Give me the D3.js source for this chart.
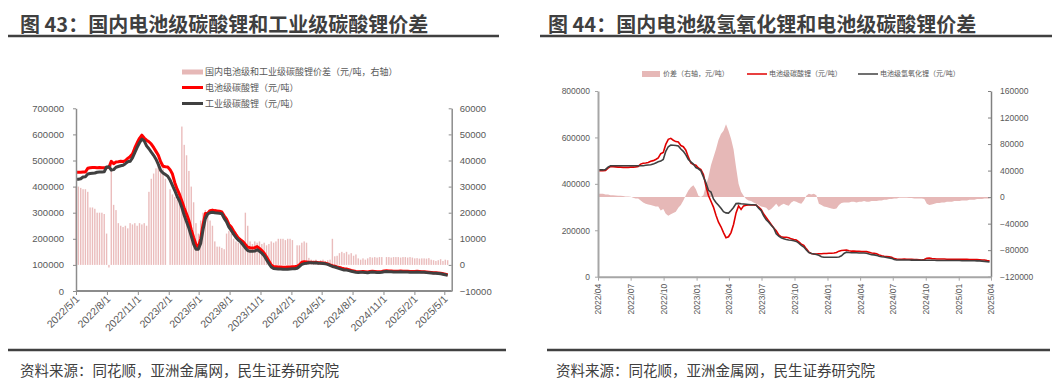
<!DOCTYPE html>
<html>
<head>
<meta charset="utf-8">
<script src="https://cdn.jsdelivr.net/npm/d3@7"></script>
<style>
  body { margin: 0; background: #fff; }
  svg { display: block; font-family: "Noto Sans CJK SC", "Noto Sans", sans-serif; }
</style>
</head>
<body>
<svg id="chart" width="1058" height="384"></svg>
<script>
// ---- figure 43: weekly, from 2022/5/1 ----
const leftStart = "2022-05-01";
const leftTicks = ["2022/5/1", "2022/8/1", "2022/11/1", "2023/2/1", "2023/5/1", "2023/8/1",
  "2023/11/1", "2024/2/1", "2024/5/1", "2024/8/1", "2024/11/1", "2025/2/1", "2025/5/1"];
const leftYTicks = [0, 100000, 200000, 300000, 400000, 500000, 600000, 700000];
const leftRTicks = [-10000, 0, 10000, 20000, 30000, 40000, 50000, 60000];
const leftLegend = ["国内电池级和工业级碳酸锂价差（元/吨，右轴）", "电池级碳酸锂（元/吨）", "工业级碳酸锂（元/吨）"];

const leftSpread = [
  30000, 30000, 29500, 29000, 29000, 28000, 22000, 22000, 21500, 20000,
  20000, 20000, 19500, 12000, -1000, 40000, 23000, 21000, 16000, 15000,
  14500, 15000, 14000, 16000, 15500, 16000, 15000, 16000, 15500, 16000,
  15000, 28000, 33000, 35000, 37000, 38000, 36000, 37000, 33000, 0,
  29000, 27000, 26000, 25000, 26000, 53000, 46000, 42000, 36000, 30000,
  24000, 16000, 12000, 17000, 20000, 21000, 19000, 17000, 15000, 9000,
  7000, 7000, 6500, 6000, 12000, 13000, 12000, 10000, 9000, 8500,
  9000, 8000, 20000, 15000, 9000, 8000, 9000, 8500, 9000, 8000,
  8500, 7500, 8000, 9000, 8500, 9000, 10000, 10000, 10000, 9500,
  10000, 10000, 9500, 0, 7500, 7500, 8500, 9000, 8500, 2700,
  2000, 1800, 2000, 1500, 1800, 2000, 1500, 1800, 2000, 10000,
  3300, 3500, 4500, 5000, 4500, 5000, 4000, 4500, 3500, 4000,
  2500, 2000, 2500, 2000, 2500, 3000, 2800, 3000, 2800, 3000,
  3000, 0, 3000, 3000, 2800, 3000, 3000, 3000, 2800, 3000,
  3000, 2800, 3000, 2800, 2500, 2600, 2400, 2500, 2500, 2400,
  2600, 2000, 1800, 1500, 1800, 2200, 1500, 2000, 1800
];
const leftBattery = [
  455000, 455000, 455000, 456000, 456000, 470000, 472000, 473000, 473000, 472000,
  473000, 472000, 472000, 473000, 474000, 497000, 488000, 494000, 495000, 497000,
  496000, 500000, 508000, 515000, 525000, 548000, 568000, 585000, 597000, 586000,
  578000, 572000, 563000, 550000, 535000, 520000, 495000, 478000, 476000, 475000,
  465000, 448000, 415000, 390000, 370000, 345000, 318000, 295000, 270000, 235000,
  205000, 178000, 168000, 200000, 255000, 297000, 298000, 308000, 310000, 308000,
  307000, 306000, 303000, 288000, 275000, 255000, 245000, 230000, 216000, 203000,
  196000, 189000, 178000, 168000, 166000, 165000, 166000, 170000, 163000, 155000,
  145000, 130000, 115000, 100000, 93000, 93000, 92000, 92000, 91000, 91000,
  92000, 92000, 93000, 93000, 95000, 100000, 110000, 112000, 111000, 110000,
  110000, 109000, 110000, 108000, 108000, 107000, 106000, 104000, 100000, 97000,
  95000, 92000, 90000, 87000, 85000, 84000, 82000, 79000, 77000, 75000,
  74000, 74000, 75000, 74000, 73000, 75000, 76000, 75000, 74000, 74000,
  75000, 77000, 78000, 77000, 77000, 76000, 76000, 76000, 77000, 76000,
  76000, 76000, 75000, 75000, 75000, 76000, 75000, 74000, 74000, 73000,
  72000, 71000, 70000, 70000, 69000, 68000, 66000, 64000, 62000
];
const leftIndustrial = [
  428000, 428000, 430000, 437000, 438000, 448000, 450000, 451000, 452000, 455000,
  456000, 456000, 457000, 475000, 476000, 463000, 465000, 474000, 477000, 480000,
  482000, 488000, 495000, 497000, 510000, 530000, 550000, 568000, 582000, 575000,
  556000, 545000, 532000, 520000, 505000, 485000, 462000, 452000, 446000, 440000,
  425000, 405000, 385000, 362000, 345000, 320000, 290000, 265000, 240000, 210000,
  180000, 160000, 160000, 182000, 235000, 278000, 295000, 300000, 302000, 300000,
  299000, 298000, 296000, 278000, 265000, 245000, 232000, 218000, 205000, 195000,
  188000, 177000, 165000, 155000, 152000, 152000, 153000, 158000, 152000, 145000,
  135000, 120000, 105000, 92000, 86000, 85000, 84000, 84000, 83000, 83000,
  83000, 84000, 85000, 85000, 87000, 94000, 102000, 105000, 106000, 108000,
  108000, 107000, 108000, 106000, 106000, 105000, 104000, 102000, 98000, 94000,
  92000, 89000, 86000, 83000, 80000, 80000, 78000, 76000, 74000, 72000,
  71000, 72000, 72000, 71000, 70000, 72000, 73000, 72000, 71000, 71000,
  72000, 74000, 75000, 74000, 74000, 73000, 73000, 73000, 74000, 73000,
  73000, 73000, 72000, 72000, 72000, 73000, 72000, 71500, 71500, 70500,
  70000, 69000, 68000, 68000, 67000, 66000, 64000, 62000, 60000
];

// ---- figure 44: weekly, from 2022/04 ----
const rightStart = "2022-04-01";
const rightTicks = ["2022/04", "2022/07", "2022/10", "2023/01", "2023/04", "2023/07", "2023/10",
  "2024/01", "2024/04", "2024/07", "2024/10", "2025/01", "2025/04"];
const rightYTicks = [0, 200000, 400000, 600000, 800000];
const rightRTicks = [-120000, -80000, -40000, 0, 40000, 80000, 120000, 160000];
const rightLegend = ["价差（右轴，元/吨）", "电池级碳酸锂（元/吨）", "电池级氢氧化锂（元/吨）"];

const rightSpread = [
  5000, 5000, 5000, 4000, 4000, 3000, 3000, 2500, 2000, 2000,
  1500, 1000, 1000, 500, -1000, -2000, -2000, -5000, -8000, -10000,
  -11000, -12000, -13000, -14000, -14000, -20000, -18000, -25000, -28000, -26000,
  -24000, -22000, -16000, -12000, -5000, 3000, 10000, 15000, 18000, 12000,
  2000, 0, 3000, 18000, 30000, 48000, 60000, 72000, 86000, 95000,
  100000, 110000, 100000, 88000, 72000, 45000, 20000, 8000, 2000, -3000,
  -5000, -6000, -8000, -10000, -12000, -14000, -15000, -16000, -20000, -18000,
  -14000, -10000, -15000, -12000, -10000, -12000, -13000, -8000, -6000, -7000,
  -9000, -10000, -5000, 2000, 5000, 4000, 5000, 3000, -10000, -12000,
  -14000, -15000, -16000, -17000, -18000, -17000, -12000, -9000, -8000, -8000,
  -8000, -7000, -7000, -8000, -7000, -7000, -6000, -7000, -7000, -6000,
  -6000, -6000, -5000, -5000, -4000, -4000, -3000, -3000, -2000, -2000,
  -1000, -1000, -1000, -1000, -1500, -1500, -2000, -2000, -2000, -2000,
  -3000, -10000, -12000, -11000, -10000, -9000, -9000, -8000, -8000, -7000,
  -7000, -7000, -6000, -6000, -6000, -5000, -5000, -5000, -4000, -4000,
  -4000, -3000, -3000, -3000, -2000, -2000, -2000
];
const rightCarbonate = [
  457000, 457000, 457000, 458000, 468000, 474000, 474000, 473000, 472000, 472000,
  471000, 471000, 471000, 472000, 472000, 473000, 475000, 485000, 489000, 490000,
  492000, 497000, 500000, 505000, 512000, 530000, 535000, 570000, 592000, 596000,
  588000, 582000, 580000, 565000, 560000, 545000, 515000, 490000, 483000, 480000,
  468000, 462000, 440000, 390000, 350000, 325000, 300000, 265000, 235000, 215000,
  190000, 168000, 172000, 190000, 225000, 275000, 305000, 290000, 305000, 308000,
  309000, 309000, 309000, 308000, 300000, 290000, 270000, 255000, 240000, 225000,
  210000, 198000, 180000, 172000, 170000, 170000, 168000, 163000, 160000, 158000,
  150000, 140000, 135000, 120000, 106000, 100000, 98000, 98000, 99000, 99000,
  100000, 100000, 101000, 101000, 102000, 104000, 110000, 113000, 114000, 115000,
  112000, 110000, 110000, 109000, 109000, 108000, 108000, 108000, 105000, 102000,
  101000, 99000, 94000, 90000, 88000, 87000, 86000, 84000, 78000, 76000,
  75000, 75000, 76000, 75000, 75000, 75000, 74000, 74000, 73000, 72000,
  74000, 79000, 80000, 78000, 77000, 76000, 76000, 76000, 76000, 75500,
  75500, 75500, 75000, 75000, 75000, 75000, 74500, 74500, 74000, 74000,
  74000, 73500, 73000, 72000, 72000, 70000, 69000
];
const rightHydroxide = [
  460000, 460000, 460000, 462000, 472000, 478000, 478000, 478000, 478000, 478000,
  478000, 478000, 478000, 478000, 478000, 478000, 478000, 478000, 478000, 480000,
  481000, 482000, 485000, 490000, 495000, 498000, 505000, 540000, 560000, 567000,
  566000, 565000, 563000, 550000, 540000, 525000, 505000, 495000, 485000, 470000,
  465000, 456000, 430000, 405000, 372000, 365000, 335000, 320000, 308000, 295000,
  280000, 275000, 274000, 285000, 298000, 315000, 316000, 314000, 313000, 312000,
  311000, 310000, 310000, 309000, 295000, 285000, 262000, 245000, 235000, 222000,
  210000, 185000, 175000, 168000, 163000, 160000, 158000, 157000, 155000, 152000,
  145000, 135000, 128000, 115000, 104000, 100000, 98000, 96000, 92000, 86000,
  84000, 84000, 84000, 84000, 84000, 84000, 85000, 90000, 100000, 106000,
  104000, 103000, 103000, 103000, 102000, 102000, 102000, 101000, 98000, 95000,
  94000, 92000, 88000, 86000, 85000, 83000, 81000, 79000, 74000, 72000,
  72000, 72000, 72000, 72000, 72000, 71500, 71500, 71500, 71000, 71000,
  71000, 71000, 71000, 71000, 71000, 70000, 70000, 70000, 70000, 70000,
  69500, 69500, 69500, 69500, 69500, 69000, 69000, 69000, 69000, 68500,
  68500, 68000, 68000, 67000, 66000, 65000, 63000
];

const titles = ["图 43：国内电池级碳酸锂和工业级碳酸锂价差", "图 44：国内电池级氢氧化锂和电池级碳酸锂价差"];
const source = "资料来源：同花顺，亚洲金属网，民生证券研究院";

const textColor = "#595959";
const pink = "#e6b8b7";
const red = "#ff0000";
const dark = "#404040";

const svg = d3.select("#chart");
const parseSlash = (s) => {
  const p = s.split("/").map(Number);
  return new Date(p[0], p[1] - 1, p[2] || 1);
};
const weekly = (start, n) => d3.range(n).map((i) => d3.timeDay.offset(new Date(start + "T00:00:00"), i * 7));

// headers and footers
[{ x: 20, x1: 8, x2: 499 }, { x: 548, x1: 540, x2: 1052 }].forEach((h, k) => {
  svg.append("text")
    .attr("x", h.x)
    .attr("y", 32)
    .attr("fill", "#3f3f3f")
    .style("font-size", "20px")
    .style("font-weight", "bold")
    .text(titles[k]);
  svg.append("line")
    .attr("x1", h.x1).attr("x2", h.x2)
    .attr("y1", 36).attr("y2", 36)
    .attr("stroke", dark).attr("stroke-width", 2.5);
});
[{ x: 20, x1: 8, x2: 506 }, { x: 556, x1: 547, x2: 1050 }].forEach((f) => {
  svg.append("line")
    .attr("x1", f.x1).attr("x2", f.x2)
    .attr("y1", 350).attr("y2", 350)
    .attr("stroke", dark).attr("stroke-width", 2.5);
  svg.append("text")
    .attr("x", f.x)
    .attr("y", 376)
    .attr("fill", "#404040")
    .style("font-size", "14.5px")
    .text(source);
});

const styleAxis = (g, color, width) => {
  g.select(".domain").attr("stroke", color).attr("stroke-width", width);
  g.selectAll(".tick line").attr("stroke", color);
  g.selectAll(".tick text").attr("fill", textColor);
};

// ---------- left chart ----------
{
  const dates = weekly(leftStart, leftSpread.length);
  const x = d3.scaleTime()
    .domain([parseSlash(leftTicks[0]), parseSlash(leftTicks[leftTicks.length - 1])])
    .range([76, 444.3]);
  const y = d3.scaleLinear().domain([0, 700000]).range([291, 108.3]);
  const yR = d3.scaleLinear().domain([-10000, 60000]).range([291, 108.3]);

  const g = svg.append("g");

  // spread bars (right axis)
  g.append("g")
    .selectAll("rect")
    .data(leftSpread)
    .join("rect")
    .attr("x", (d, i) => x(dates[i]) - 0.7)
    .attr("width", 1.4)
    .attr("y", (d) => Math.min(yR(d), yR(0)))
    .attr("height", (d) => Math.abs(yR(d) - yR(0)))
    .attr("fill", "#e3a6a5")
    .attr("fill-opacity", 0.75);

  const line = d3.line().x((d, i) => x(dates[i])).y((d) => y(d));
  g.append("path")
    .datum(leftBattery)
    .attr("d", line)
    .attr("fill", "none")
    .attr("stroke", red)
    .attr("stroke-width", 3)
    .attr("stroke-linejoin", "round");
  g.append("path")
    .datum(leftIndustrial)
    .attr("d", line)
    .attr("fill", "none")
    .attr("stroke", dark)
    .attr("stroke-width", 3)
    .attr("stroke-linejoin", "round");

  const gy = g.append("g")
    .attr("transform", "translate(76,0)")
    .style("font-size", "9.5px")
    .call(d3.axisLeft(y).tickValues(leftYTicks).tickFormat(d3.format("d")).tickSize(3).tickSizeOuter(0).tickPadding(9));
  styleAxis(gy, "#8c8c8c", 1.5);

  const gr = g.append("g")
    .attr("transform", "translate(451.7,0)")
    .style("font-size", "9.5px")
    .call(d3.axisRight(yR).tickValues(leftRTicks).tickFormat(d3.format("d")).tickSize(-3).tickSizeOuter(0).tickPadding(8));
  styleAxis(gr, "#8c8c8c", 1.5);

  const gx = g.append("g")
    .attr("transform", "translate(0,291)")
    .style("font-size", "10.5px")
    .call(d3.axisBottom(x).tickValues(leftTicks.map(parseSlash)).tickFormat((d, i) => leftTicks[i]).tickSize(4).tickSizeOuter(0));
  gx.select(".domain").remove();
  gx.append("line").attr("x1", 76).attr("x2", 451.7).attr("stroke", "#8c8c8c").attr("stroke-width", 2);
  styleAxis(gx, "#8c8c8c", 2);
  gx.selectAll(".tick text")
    .attr("y", 0)
    .attr("dy", "0.35em")
    .attr("text-anchor", "end")
    .attr("transform", "translate(1,6) rotate(-45)");

  // legend
  const lg = g.append("g").style("font-size", "9px");
  lg.append("rect").attr("x", 182).attr("y", 69.5).attr("width", 21).attr("height", 5).attr("fill", pink);
  lg.append("line").attr("x1", 182).attr("x2", 203).attr("y1", 87.5).attr("y2", 87.5).attr("stroke", red).attr("stroke-width", 3);
  lg.append("line").attr("x1", 182).attr("x2", 203).attr("y1", 103.5).attr("y2", 103.5).attr("stroke", dark).attr("stroke-width", 3);
  lg.selectAll("text")
    .data(leftLegend)
    .join("text")
    .attr("x", 205)
    .attr("y", (d, i) => [72, 87.5, 103.5][i])
    .attr("dy", "0.35em")
    .attr("fill", textColor)
    .text((d) => d);
}

// ---------- right chart ----------
{
  const dates = weekly(rightStart, rightSpread.length);
  const x = d3.scaleTime()
    .domain([parseSlash(rightTicks[0]), parseSlash(rightTicks[rightTicks.length - 1])])
    .range([598, 991]);
  const y = d3.scaleLinear().domain([0, 800000]).range([276.7, 91]);
  const yR = d3.scaleLinear().domain([-120000, 160000]).range([276.7, 91]);

  const g = svg.append("g");

  g.append("path")
    .datum(rightSpread)
    .attr("d", d3.area().x((d, i) => x(dates[i])).y0(yR(0)).y1((d) => yR(d)))
    .attr("fill", pink);

  const line = d3.line().x((d, i) => x(dates[i])).y((d) => y(d));
  g.append("path")
    .datum(rightCarbonate)
    .attr("d", line)
    .attr("fill", "none")
    .attr("stroke", "#e00000")
    .attr("stroke-width", 1.6);
  g.append("path")
    .datum(rightHydroxide)
    .attr("d", line)
    .attr("fill", "none")
    .attr("stroke", dark)
    .attr("stroke-width", 1.6);

  const gy = g.append("g")
    .attr("transform", "translate(598,0)")
    .style("font-size", "8.5px")
    .call(d3.axisLeft(y).tickValues(rightYTicks).tickFormat(d3.format("d")).tickSize(3).tickSizeOuter(0).tickPadding(5));
  styleAxis(gy, "#a6a6a6", 2);

  const gr = g.append("g")
    .attr("transform", "translate(991,0)")
    .style("font-size", "8.5px")
    .call(d3.axisRight(yR).tickValues(rightRTicks).tickFormat(d3.format("d")).tickSize(-3).tickSizeOuter(0).tickPadding(9));
  styleAxis(gr, "#808080", 1.5);

  const gx = g.append("g")
    .attr("transform", "translate(0,276.7)")
    .style("font-size", "8.5px")
    .call(d3.axisBottom(x).tickValues(rightTicks.map(parseSlash)).tickFormat((d, i) => rightTicks[i]).tickSize(4).tickSizeOuter(0));
  styleAxis(gx, "#a6a6a6", 2);
  gx.selectAll(".tick text")
    .attr("y", 0)
    .attr("dy", "0.35em")
    .attr("text-anchor", "end")
    .attr("transform", "translate(0,7) rotate(-90)");

  // legend
  const lg = g.append("g").style("font-size", "7px");
  lg.append("rect").attr("x", 642).attr("y", 71).attr("width", 18).attr("height", 6).attr("fill", pink);
  lg.append("line").attr("x1", 747).attr("x2", 767).attr("y1", 74).attr("y2", 74).attr("stroke", "#e00000").attr("stroke-width", 1.5);
  lg.append("line").attr("x1", 858).attr("x2", 878).attr("y1", 74).attr("y2", 74).attr("stroke", dark).attr("stroke-width", 1.5);
  lg.selectAll("text")
    .data(rightLegend)
    .join("text")
    .attr("x", (d, i) => [663, 769, 880][i])
    .attr("y", 74)
    .attr("dy", "0.35em")
    .attr("fill", textColor)
    .text((d) => d);
}
</script>
</body>
</html>
